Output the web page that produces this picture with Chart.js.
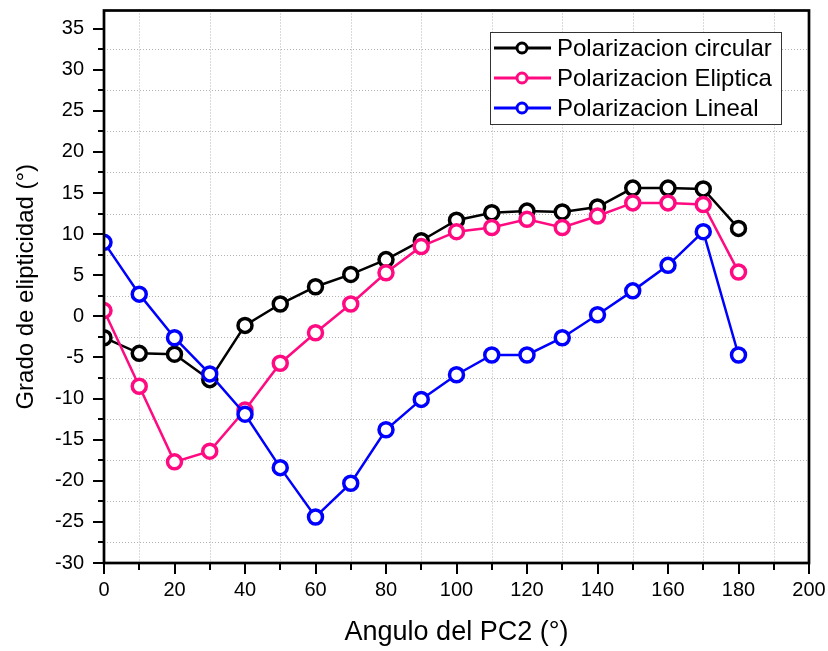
<!DOCTYPE html>
<html>
<head>
<meta charset="utf-8">
<script src="https://cdn.jsdelivr.net/npm/chart.js@4"></script>
<style>
  html, body { margin: 0; padding: 0; background: #fff; }
  #wrap { width: 828px; height: 651px; }
</style>
</head>
<body>
<div id="wrap"><canvas id="chart" width="828" height="651"></canvas></div>
<script>
// angles (deg)
var angles = [0, 10, 20, 30, 40, 50, 60, 70, 80, 90, 100, 110, 120, 130, 140, 150, 160, 170, 180];
var circular = [-2.6, -4.5, -4.6, -7.7, -1.1, 1.5, 3.6, 5.1, 6.9, 9.2, 11.7, 12.6, 12.8, 12.7, 13.3, 15.6, 15.6, 15.5, 10.7];
var eliptica = [0.7, -8.5, -17.7, -16.4, -11.4, -5.7, -2.0, 1.5, 5.3, 8.5, 10.3, 10.8, 11.8, 10.8, 12.2, 13.8, 13.8, 13.6, 5.4];
var lineal = [9.0, 2.7, -2.6, -7.0, -11.9, -18.4, -24.4, -20.3, -13.8, -10.1, -7.1, -4.7, -4.7, -2.6, 0.2, 3.1, 6.2, 10.3, -4.7];
var seriesNames = ['Polarizacion circular', 'Polarizacion Eliptica', 'Polarizacion Lineal'];
var seriesColors = ['#000000', '#ff0a80', '#0000ff'];

// y ticks every 2.5, labels on multiples of 5
var yTickMin = -30, yTickMax = 35, yTickStep = 2.5;

var FONT = '"Liberation Sans", Arial, sans-serif';

function pts(vals) {
  return angles.map(function (a, i) { return { x: a, y: vals[i] }; });
}

function ds(label, vals, color, order) {
  return {
    label: label,
    data: pts(vals),
    borderColor: color,
    backgroundColor: '#ffffff',
    borderWidth: 2.5,
    pointRadius: 7,
    pointBorderWidth: 3.5,
    pointBackgroundColor: '#ffffff',
    pointBorderColor: color,
    order: order
  };
}

function isMajor(scale, v) {
  var step = scale.axis === 'x' ? 20 : 5;
  return Math.abs(v % step) < 1e-6;
}

// dotted grid on the minor ticks
var gridPlugin = {
  id: 'minorGrid',
  beforeDatasetsDraw: function (chart) {
    var ctx = chart.ctx, a = chart.chartArea;
    var xs = chart.scales.x, ys = chart.scales.y;
    ctx.save();
    ctx.strokeStyle = '#b4b4b4';
    ctx.lineWidth = 1;
    ctx.setLineDash([1, 2]);
    ctx.beginPath();
    xs.ticks.forEach(function (t) {
      if (isMajor(xs, t.value)) return;
      var px = Math.round(xs.getPixelForValue(t.value)) + 0.5;
      ctx.moveTo(px, a.top);
      ctx.lineTo(px, a.bottom);
    });
    ys.ticks.forEach(function (t) {
      if (isMajor(ys, t.value)) return;
      var py = Math.round(ys.getPixelForValue(t.value)) + 0.5;
      ctx.moveTo(a.left, py);
      ctx.lineTo(a.right, py);
    });
    ctx.stroke();
    ctx.restore();
  }
};

// frame, tick marks and inner legend
var framePlugin = {
  id: 'frame',
  afterDraw: function (chart) {
    var ctx = chart.ctx;
    var a = chart.chartArea;
    var xs = chart.scales.x, ys = chart.scales.y;
    ctx.save();
    ctx.strokeStyle = '#000';
    ctx.lineWidth = 2;
    ctx.beginPath();
    xs.ticks.forEach(function (t) {
      var px = Math.round(xs.getPixelForValue(t.value));
      var len = isMajor(xs, t.value) ? 11 : 7;
      ctx.moveTo(px, a.bottom);
      ctx.lineTo(px, a.bottom + len);
    });
    ys.ticks.forEach(function (t) {
      var py = Math.round(ys.getPixelForValue(t.value));
      var len = isMajor(ys, t.value) ? 11 : 6;
      ctx.moveTo(a.left, py);
      ctx.lineTo(a.left - len, py);
    });
    ctx.stroke();
    ctx.lineWidth = 2.7;
    ctx.strokeRect(a.left, a.top, a.right - a.left, a.bottom - a.top);

    // legend
    var lx = 490, ly = 32, lw = 291, lh = 92;
    ctx.fillStyle = '#fff';
    ctx.fillRect(lx, ly, lw, lh);
    ctx.lineWidth = 1;
    ctx.strokeStyle = '#333';
    ctx.strokeRect(lx + 0.5, ly + 0.5, lw, lh);
    ctx.font = '24px ' + FONT;
    ctx.textBaseline = 'middle';
    ctx.textAlign = 'left';
    seriesNames.forEach(function (name, i) {
      var cy = ly + 16 + i * 30;
      ctx.strokeStyle = seriesColors[i];
      ctx.lineWidth = 3;
      ctx.beginPath();
      ctx.moveTo(494, cy);
      ctx.lineTo(551, cy);
      ctx.stroke();
      ctx.beginPath();
      ctx.arc(522, cy, 5, 0, Math.PI * 2);
      ctx.fillStyle = '#fff';
      ctx.fill();
      ctx.lineWidth = 3;
      ctx.stroke();
      ctx.fillStyle = '#000';
      ctx.fillText(name, 557, cy + 1);
    });
    ctx.restore();
  }
};

new Chart(document.getElementById('chart'), {
  type: 'line',
  data: {
    datasets: [
      ds(seriesNames[0], circular, seriesColors[0], 3),
      ds(seriesNames[1], eliptica, seriesColors[1], 2),
      ds(seriesNames[2], lineal, seriesColors[2], 1)
    ]
  },
  options: {
    responsive: false,
    animation: false,
    layout: { padding: { top: 9, right: 0, left: 0, bottom: 0 } },
    plugins: { legend: { display: false }, tooltip: { enabled: false } },
    scales: {
      x: {
        type: 'linear',
        min: 0, max: 200,
        afterFit: function (s) {
          s.height = 88;
          s.paddingLeft = 0;
          s.paddingRight = 19;
        },
        ticks: {
          stepSize: 10,
          autoSkip: false,
          maxRotation: 0,
          padding: 15,
          color: '#000',
          font: { family: FONT, size: 20 },
          callback: function (v) { return v % 20 === 0 ? v : ''; }
        },
        grid: { display: false, drawTicks: false },
        border: { display: false },
        title: {
          display: true,
          text: 'Angulo del PC2 (°)',
          color: '#000',
          font: { family: FONT, size: 27 },
          padding: { top: 0, bottom: 2 }
        }
      },
      y: {
        min: -30, max: 37.2,
        afterBuildTicks: function (s) {
          var t = [];
          for (var v = yTickMin; v <= yTickMax + 1e-6; v += yTickStep) t.push({ value: v });
          s.ticks = t;
        },
        afterFit: function (s) {
          s.width = 104;
          s.paddingTop = 0;
          s.paddingBottom = 0;
        },
        ticks: {
          autoSkip: false,
          padding: 20,
          color: '#000',
          font: { family: FONT, size: 20 },
          callback: function (v) { return Math.abs(v % 5) < 1e-6 ? v : ''; }
        },
        grid: { display: false, drawTicks: false },
        border: { display: false },
        title: {
          display: true,
          text: 'Grado de elipticidad (°)',
          color: '#000',
          font: { family: FONT, size: 24 },
          padding: { top: 12, bottom: 0 }
        }
      }
    }
  },
  plugins: [gridPlugin, framePlugin]
});
</script>
</body>
</html>
